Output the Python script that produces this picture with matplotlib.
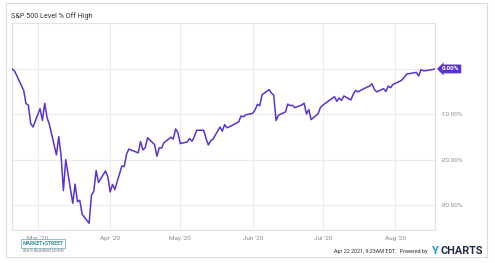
import matplotlib.pyplot as plt
import matplotlib.dates as mdates
import numpy as np
import pandas as pd
from matplotlib.patches import Rectangle

plt.rcParams['font.family'] = ['Roboto', 'DejaVu Sans']

# S&P 500 daily closes, Feb 19 2020 (pre-crash high) .. Aug 18 2020 (new high)
dates = [
    "2020-02-19", "2020-02-20", "2020-02-21", "2020-02-24", "2020-02-25", "2020-02-26",
    "2020-02-27", "2020-02-28", "2020-03-02", "2020-03-03", "2020-03-04", "2020-03-05",
    "2020-03-06", "2020-03-09", "2020-03-10", "2020-03-11", "2020-03-12", "2020-03-13",
    "2020-03-16", "2020-03-17", "2020-03-18", "2020-03-19", "2020-03-20", "2020-03-23",
    "2020-03-24", "2020-03-25", "2020-03-26", "2020-03-27", "2020-03-30", "2020-03-31",
    "2020-04-01", "2020-04-02", "2020-04-03", "2020-04-06", "2020-04-07", "2020-04-08",
    "2020-04-09", "2020-04-13", "2020-04-14", "2020-04-15", "2020-04-16", "2020-04-17",
    "2020-04-20", "2020-04-21", "2020-04-22", "2020-04-23", "2020-04-24", "2020-04-27",
    "2020-04-28", "2020-04-29", "2020-04-30", "2020-05-01", "2020-05-04", "2020-05-05",
    "2020-05-06", "2020-05-07", "2020-05-08", "2020-05-11", "2020-05-12", "2020-05-13",
    "2020-05-14", "2020-05-15", "2020-05-18", "2020-05-19", "2020-05-20", "2020-05-21",
    "2020-05-22", "2020-05-26", "2020-05-27", "2020-05-28", "2020-05-29", "2020-06-01",
    "2020-06-02", "2020-06-03", "2020-06-04", "2020-06-05", "2020-06-08", "2020-06-09",
    "2020-06-10", "2020-06-11", "2020-06-12", "2020-06-15", "2020-06-16", "2020-06-17",
    "2020-06-18", "2020-06-19", "2020-06-22", "2020-06-23", "2020-06-24", "2020-06-25",
    "2020-06-26", "2020-06-29", "2020-06-30", "2020-07-01", "2020-07-02", "2020-07-06",
    "2020-07-07", "2020-07-08", "2020-07-09", "2020-07-10", "2020-07-13", "2020-07-14",
    "2020-07-15", "2020-07-16", "2020-07-17", "2020-07-20", "2020-07-21", "2020-07-22",
    "2020-07-23", "2020-07-24", "2020-07-27", "2020-07-28", "2020-07-29", "2020-07-30",
    "2020-07-31", "2020-08-03", "2020-08-04", "2020-08-05", "2020-08-06", "2020-08-07",
    "2020-08-10", "2020-08-11", "2020-08-12", "2020-08-13", "2020-08-14", "2020-08-17",
    "2020-08-18",
]
closes = [
    3386.15, 3373.23, 3337.75, 3225.89, 3128.21, 3116.39,
    2978.76, 2954.22, 3090.23, 3003.37, 3130.12, 3023.94,
    2972.37, 2746.56, 2882.23, 2741.38, 2480.64, 2711.02,
    2386.13, 2529.19, 2398.10, 2409.39, 2304.92, 2237.40,
    2447.33, 2475.56, 2630.07, 2541.47, 2626.65, 2584.59,
    2470.50, 2526.90, 2488.65, 2663.68, 2659.41, 2749.98,
    2789.82, 2761.63, 2846.06, 2783.36, 2799.55, 2874.56,
    2823.16, 2736.56, 2799.31, 2797.80, 2836.74, 2878.48,
    2863.39, 2939.51, 2912.43, 2830.71, 2842.74, 2868.44,
    2848.42, 2881.19, 2929.80, 2930.32, 2870.12, 2820.00,
    2852.50, 2863.70, 2953.91, 2922.94, 2971.61, 2948.51,
    2955.45, 2991.77, 3036.13, 3029.73, 3044.31, 3055.73,
    3080.82, 3122.87, 3112.35, 3193.93, 3232.39, 3207.18,
    3190.14, 3002.10, 3041.31, 3066.59, 3124.74, 3113.49,
    3115.34, 3097.74, 3117.86, 3131.29, 3050.33, 3083.76,
    3009.05, 3053.24, 3100.29, 3115.86, 3130.01, 3179.72,
    3145.32, 3169.94, 3152.05, 3185.04, 3155.22, 3197.52,
    3226.56, 3215.57, 3224.73, 3251.84, 3257.30, 3276.02,
    3235.66, 3215.63, 3239.41, 3218.44, 3258.44, 3246.22,
    3271.12, 3294.61, 3306.51, 3327.77, 3349.16, 3351.28,
    3360.47, 3333.69, 3380.35, 3373.43, 3372.85, 3381.99,
    3389.78,
]
yticks = [0, -10, -20, -30]
month_ticks = ["2020-03-01", "2020-04-01", "2020-05-01", "2020-06-01", "2020-07-01", "2020-08-01"]

x = pd.to_datetime(dates)
s = pd.Series(closes, index=x)
off_high = (s / s.cummax() - 1) * 100

W, H = 495, 263
fig = plt.figure(figsize=(W / 100, H / 100), dpi=100)
fig.patches.append(Rectangle((6 / W, 1 - 257 / H), 481 / W, 254 / H,
                             transform=fig.transFigure, fill=False,
                             ec='#dcdcdc', lw=0.8))

ax = fig.add_axes([12 / W, 1 - 230 / H, 423 / W, 207 / H])
ax.plot(off_high.index, off_high.values, color='#5b32d0', lw=1.1, zorder=3)

ax.set_xlim(x[0], x[-1])
ax.set_ylim(-35.4, 10.1)
ax.set_xticks(pd.to_datetime(month_ticks))
ax.xaxis.set_major_formatter(mdates.DateFormatter("%b '%y"))
ax.set_yticks(yticks)
ax.set_yticklabels(["%.2f%%" % v for v in yticks])
ax.yaxis.tick_right()
ax.tick_params(length=0, labelsize=4.6, colors='#8a8a8a')
ax.tick_params(axis='y', pad=4)
ax.tick_params(axis='x', pad=4)
ax.grid(True, color='#ebebeb', lw=0.8)
for sp in ax.spines.values():
    sp.set_color('#e2e2e2')
    sp.set_linewidth(0.8)

ax.annotate("%.2f%%" % off_high.values[-1], xy=(x[-1], off_high.values[-1]),
            xytext=(5, 0), textcoords='offset points', ha='left', va='center',
            fontsize=4.6, color='white', fontweight='bold', annotation_clip=False,
            bbox=dict(boxstyle='larrow,pad=0.3', fc='#5b32d0', ec='none'), zorder=5)

fig.text(11 / W, 1 - 16 / H, "S&P 500 Level % Off High", fontsize=5.2,
         color='#333333', va='center', ha='left')

# logo
fig.text(43 / W, 1 - 243.5 / H, "MARKET+STREET", fontsize=3.6, color='#3a8e98',
         ha='center', va='center', fontweight='bold',
         bbox=dict(boxstyle='square,pad=0.35', fc='white', ec='#6aa7ae', lw=0.5))
fig.text(43 / W, 1 - 251 / H, "WEALTH MANAGEMENT ADVISORS", fontsize=1.8,
         color='#666666', ha='center', va='center')

# footer
fig.text(428 / W, 1 - 251 / H, "Apr 22 2021, 9:23AM EDT.  Powered by", fontsize=3.9,
         color='#333333', ha='right', va='center')
fig.text(483 / W, 1 - 250.5 / H, "CHARTS", fontsize=7.8, color='#1f2a44',
         ha='right', va='center', fontweight='bold')
fig.text(438 / W, 1 - 250.5 / H, "Y", fontsize=8.2, color='#1e9be0',
         ha='right', va='center', fontweight='bold')

fig.savefig("out.png", dpi=100)
